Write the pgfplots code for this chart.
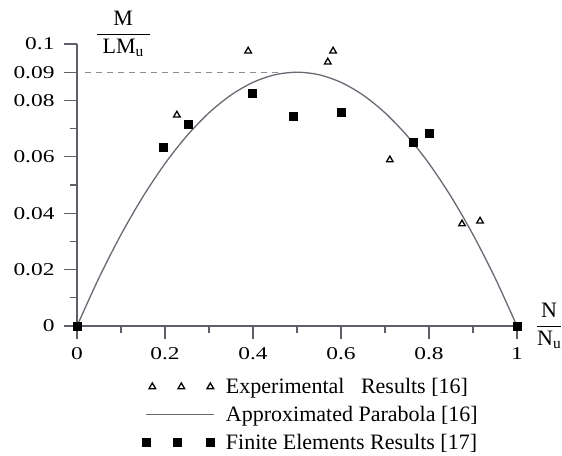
\documentclass[border=0pt]{standalone}
\usepackage{fontspec}
\setmainfont{Liberation Serif}
\newfontfamily\tickfamily[FakeStretch=1.3]{Liberation Serif}
\usepackage{pgfplots}
\pgfplotsset{compat=1.18}
\definecolor{axisgray}{RGB}{95,95,105}
\definecolor{curvegray}{RGB}{105,105,115}
\definecolor{dashgray}{RGB}{140,140,145}
\newcommand\tickfont{\tickfamily\fontsize{18}{20}\selectfont}
\newcommand\legfont{\fontsize{22}{24}\selectfont}
\newcommand\fracfont{\fontsize{22}{26}\selectfont}

\begin{document}
\begin{tikzpicture}
\path[use as bounding box] (-77pt,-129pt) rectangle (485pt,326pt);
\begin{axis}[
    at={(0pt,0pt)}, anchor=south west,
    scale only axis, width=440pt, height=282pt,
    xmin=0, xmax=1, ymin=0, ymax=0.1,
    clip=false,
    axis lines=left,
    axis line style={-, axisgray, line width=1.2pt},
    x axis line style={shorten <=-13pt},
    tick style={axisgray, line width=1.2pt},
    tick align=outside,
    major tick length=13pt,
    minor tick length=7pt,
    xtick={0,0.2,0.4,0.6,0.8,1},
    xticklabels={0,0.2,0.4,0.6,0.8,1},
    minor xtick={0.1,0.3,0.5,0.7,0.9},
    ytick={0,0.02,0.04,0.06,0.08,0.09,0.1},
    yticklabels={0,0.02,0.04,0.06,0.08,0.09,0.1},
    minor ytick={0.01,0.03,0.05,0.07},
    tick label style={font=\tickfont},
    yticklabel style={xshift=-6pt},
    xticklabel style={yshift=-5pt},
    xlabel={\fracfont$\displaystyle\frac{\mathrm{N}}{\mathrm{N}_{\mathrm{u}}}$},
    xlabel style={at={(axis description cs:1.035,0)}, anchor=west},
    ylabel={\fracfont$\displaystyle\frac{\mathrm{M}}{\;\mathrm{LM}_{\mathrm{u}}\;}$},
    ylabel style={at={(axis description cs:0.105,1.035)}, anchor=center, rotate=-90},
    legend style={at={(axis description cs:0.148,-0.185)}, anchor=north west,
        draw=none, fill=none, font=\legfont, row sep=11pt, inner sep=0pt,
        nodes={inner sep=0pt},
        /tikz/every odd column/.append style={column sep=11pt}},
    legend cell align=left,
]
\addplot[dashgray, dash pattern=on 6pt off 5pt, line width=1.2pt, forget plot]
    coordinates {(0.018,0.09) (0.46,0.09)};

\addplot[only marks, mark=triangle, mark size=3.8pt,
    mark options={black, line width=1.3pt},
    legend image code/.code={\draw[only marks] plot coordinates {(6pt,0pt) (35pt,0pt) (64pt,0pt)};}]
    coordinates {(0.227,0.0748) (0.389,0.0975) (0.570,0.0936) (0.582,0.0975)
                 (0.711,0.0589) (0.875,0.0362) (0.916,0.0372)};
\addlegendentry{Experimental~~~Results [16]}

\addplot[curvegray, line width=1.3pt, smooth, no marks,
    legend image code/.code={\draw (0pt,0pt) -- (68pt,0pt);}]
    coordinates {(0,0) (0.05,0.0171) (0.1,0.0324) (0.15,0.0459) (0.2,0.0576)
                 (0.25,0.0675) (0.3,0.0756) (0.35,0.0819) (0.4,0.0864) (0.45,0.0891)
                 (0.5,0.09) (0.55,0.0891) (0.6,0.0864) (0.65,0.0819) (0.7,0.0756)
                 (0.75,0.0675) (0.8,0.0576) (0.85,0.0459) (0.9,0.0324) (0.95,0.0171) (1,0)};
\addlegendentry{Approximated Parabola [16]}

\addplot[only marks, mark=square*, mark size=4pt, black,
    legend image code/.code={\draw[only marks] plot coordinates {(0pt,0pt) (31pt,0pt) (64pt,0pt)};}]
    coordinates {(0,0) (0.196,0.0635) (0.253,0.0716) (0.398,0.0826) (0.491,0.0745)
                 (0.600,0.0759) (0.764,0.0652) (0.800,0.0684) (1,0)};
\addlegendentry{Finite Elements Results [17]}
\end{axis}
\end{tikzpicture}
\end{document}
